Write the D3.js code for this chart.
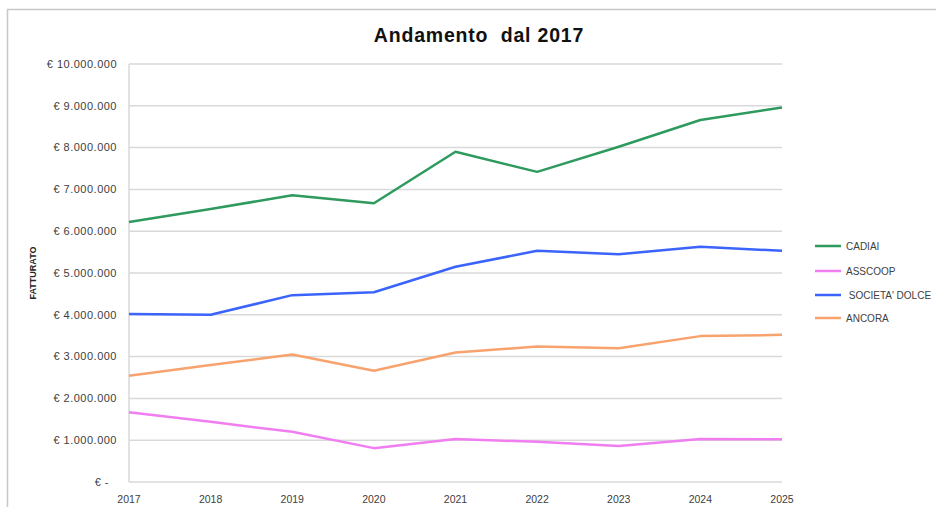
<!DOCTYPE html>
<html>
<head>
<meta charset="utf-8">
<script src="https://cdn.jsdelivr.net/npm/d3@7.9.0/dist/d3.min.js"></script>
<style>
  body { margin: 0; background: #fff; }
  text { font-family: "Liberation Sans", "DejaVu Sans", sans-serif; }
</style>
</head>
<body>
<svg id="chart" width="936" height="507"></svg>
<script>
// Chart data
const years = ["2017", "2018", "2019", "2020", "2021", "2022", "2023", "2024", "2025"];
const cadiai = [6220000, 6530000, 6860000, 6670000, 7900000, 7420000, 8020000, 8660000, 8960000];
const asscoop = [1670000, 1440000, 1200000, 810000, 1030000, 960000, 860000, 1030000, 1020000];
const societaDolce = [4020000, 4000000, 4470000, 4540000, 5150000, 5530000, 5450000, 5630000, 5530000];
const ancora = [2540000, 2800000, 3050000, 2660000, 3100000, 3240000, 3200000, 3490000, 3520000];
const yTicks = [0, 1000000, 2000000, 3000000, 4000000, 5000000, 6000000, 7000000, 8000000, 9000000, 10000000];

const seriesNames = ["CADIAI", "ASSCOOP", " SOCIETA' DOLCE", "ANCORA"];
const seriesValues = [cadiai, asscoop, societaDolce, ancora];
const seriesColors = ["#2e9a5e", "#f07ef0", "#3a64fb", "#f8a26e"];

const svg = d3.select("#chart");

// outer chart frame
svg.append("rect")
  .attr("x", 7.5).attr("y", 9.5)
  .attr("width", 940).attr("height", 510)
  .attr("fill", "none").attr("stroke", "#c8c8c8").attr("stroke-width", 1.5);

const margin = { left: 129, right: 782, top: 64, bottom: 482 };

const x = d3.scalePoint().domain(years).range([margin.left, margin.right]);
const y = d3.scaleLinear().domain([0, 10000000]).range([margin.bottom, margin.top]);

// gridlines
svg.append("g")
  .selectAll("line")
  .data(yTicks)
  .join("line")
  .attr("x1", margin.left).attr("x2", margin.right)
  .attr("y1", d => y(d)).attr("y2", d => y(d))
  .attr("stroke", "#d9d9d9").attr("stroke-width", 1.5);

// left axis line
svg.append("line")
  .attr("x1", margin.left).attr("x2", margin.left)
  .attr("y1", margin.top).attr("y2", margin.bottom)
  .attr("stroke", "#d9d9d9").attr("stroke-width", 1.5);

// y tick labels (Italian euro format)
const fmt = d => d === 0 ? "€ -" : "€ " + d3.format(",")(d).replace(/,/g, ".");
svg.append("g")
  .selectAll("text")
  .data(yTicks)
  .join("text")
  .attr("x", d => d === 0 ? 109 : 117)
  .attr("y", d => y(d))
  .attr("dy", "0.35em")
  .attr("text-anchor", "end")
  .attr("font-size", 11)
  .attr("letter-spacing", 0.5)
  .attr("fill", "#404040")
  .style("white-space", "pre")
  .text(fmt);

// x tick labels
svg.append("g")
  .selectAll("text")
  .data(years)
  .join("text")
  .attr("x", d => x(d))
  .attr("y", 503)
  .attr("text-anchor", "middle")
  .attr("font-size", 10.5)
  .attr("fill", "#404040")
  .text(d => d);

// y axis title
svg.append("text")
  .attr("transform", "translate(36,273) rotate(-90)")
  .attr("text-anchor", "middle")
  .attr("font-size", 9)
  .attr("font-weight", "bold")
  .attr("fill", "#262626")
  .text("FATTURATO");

// title
svg.append("text")
  .attr("x", 479).attr("y", 42)
  .attr("text-anchor", "middle")
  .attr("font-size", 19.5)
  .attr("font-weight", "bold")
  .attr("letter-spacing", 0.8)
  .attr("fill", "#111")
  .style("white-space", "pre")
  .text("Andamento  dal 2017");

// lines
const line = d3.line().x((d, i) => x(years[i])).y(d => y(d));
seriesValues.forEach((vals, idx) => {
  svg.append("path")
    .datum(vals)
    .attr("d", line)
    .attr("fill", "none")
    .attr("stroke", seriesColors[idx])
    .attr("stroke-width", 2.5)
    .attr("stroke-linejoin", "round");
});

// legend
const legendY = [246, 271, 295, 318];
const legend = svg.append("g");
seriesNames.forEach((name, idx) => {
  legend.append("line")
    .attr("x1", 815).attr("x2", 841)
    .attr("y1", legendY[idx]).attr("y2", legendY[idx])
    .attr("stroke", seriesColors[idx]).attr("stroke-width", 2.5);
  legend.append("text")
    .attr("x", 846).attr("y", legendY[idx])
    .attr("dy", "0.35em")
    .attr("font-size", 10)
    .attr("fill", "#404040")
    .style("white-space", "pre")
    .text(name);
});
</script>
</body>
</html>
